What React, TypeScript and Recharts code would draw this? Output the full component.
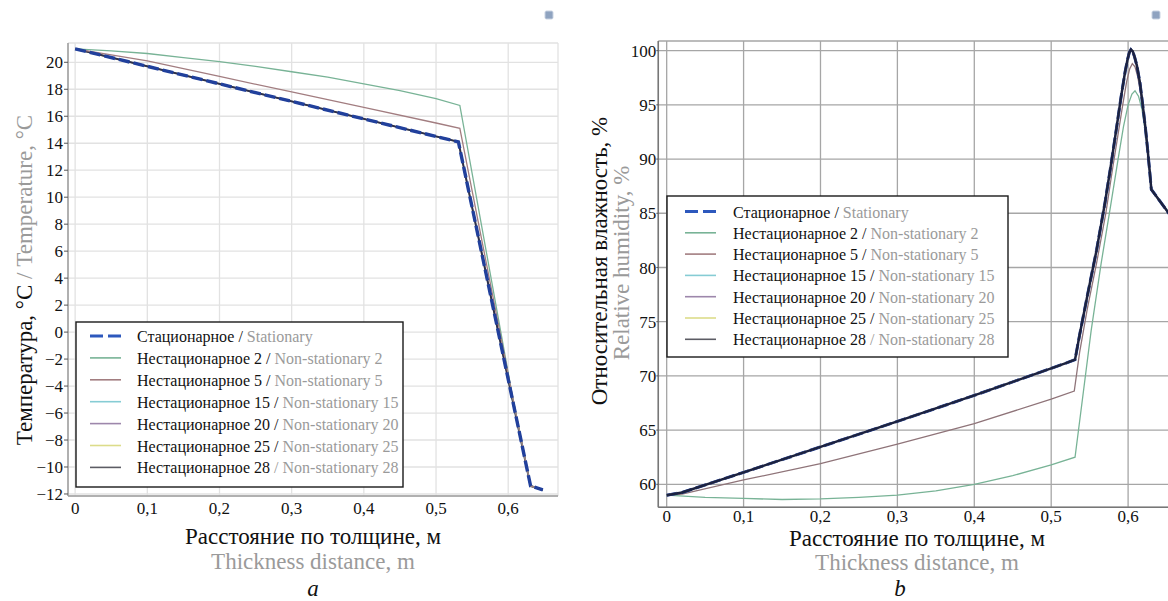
import React from 'react';
import { LineChart, Line, XAxis, YAxis, CartesianGrid } from 'recharts';

const FONT = "'Liberation Serif', 'Times New Roman', serif";

// ---------- a: температура, °C ----------
const tempTicksX = [0, 0.1, 0.2, 0.3, 0.4, 0.5, 0.6];
const tempTicksY = [-12, -10, -8, -6, -4, -2, 0, 2, 4, 6, 8, 10, 12, 14, 16, 18, 20];

const tempStatX = [0, 0.531, 0.631, 0.648];
const tempStatY = [21, 14.1, -11.4, -11.7];

const tempNs2X = [0, 0.05, 0.1, 0.15, 0.2, 0.25, 0.3, 0.35, 0.4, 0.45, 0.5, 0.533, 0.605, 0.631, 0.648];
const tempNs2Y = [21, 20.85, 20.65, 20.35, 20.05, 19.7, 19.3, 18.9, 18.4, 17.9, 17.3, 16.8, -4.5, -11.4, -11.7];

const tempNs5X = [0, 0.1, 0.2, 0.3, 0.4, 0.5, 0.533, 0.605, 0.631, 0.648];
const tempNs5Y = [21, 20.1, 18.95, 17.8, 16.65, 15.5, 15.1, -4.5, -11.4, -11.7];

// 15, 20, 25, 28 — совпадают со стационарным
const tempNs15Y = [21, 14.1, -11.4, -11.7];
const tempNs20Y = [21, 14.1, -11.4, -11.7];
const tempNs25Y = [21, 14.1, -11.4, -11.7];
const tempNs28Y = [21, 14.1, -11.4, -11.7];

// ---------- b: относительная влажность, % ----------
const humTicksX = [0, 0.1, 0.2, 0.3, 0.4, 0.5, 0.6];
const humTicksY = [60, 65, 70, 75, 80, 85, 90, 95, 100];

const humStatX = [0, 0.02, 0.1, 0.2, 0.3, 0.4, 0.5, 0.52, 0.531, 0.537, 0.547, 0.559, 0.57, 0.578, 0.585, 0.591, 0.596, 0.599, 0.6015, 0.6037, 0.606, 0.6085, 0.6115, 0.6155, 0.619, 0.6225, 0.6255, 0.6283, 0.6302, 0.655];
const humStatY = [59.0, 59.25, 61.1, 63.45, 65.8, 68.2, 70.7, 71.2, 71.5, 73.8, 77.4, 81.6, 86.0, 89.6, 92.9, 95.8, 98.0, 99.1, 99.8, 100.1, 99.95, 99.4, 98.6, 97.0, 95.0, 92.9, 90.8, 88.7, 87.2, 84.8];

const humNs2X = [0, 0.05, 0.1, 0.15, 0.2, 0.25, 0.3, 0.35, 0.4, 0.45, 0.5, 0.531, 0.54, 0.552, 0.565, 0.5775, 0.587, 0.594, 0.6, 0.605, 0.609, 0.6135, 0.618, 0.6215, 0.6245, 0.6275, 0.6302, 0.655];
const humNs2Y = [59.0, 58.8, 58.7, 58.6, 58.65, 58.8, 59.0, 59.4, 60.0, 60.8, 61.8, 62.5, 67.5, 74.2, 80.4, 85.8, 90.0, 93.0, 95.0, 96.0, 96.3, 95.8, 94.6, 93.0, 91.3, 89.2, 87.2, 84.8];

const humNs5X = [0, 0.02, 0.1, 0.2, 0.3, 0.4, 0.5, 0.53, 0.537, 0.547, 0.559, 0.571, 0.58, 0.587, 0.593, 0.598, 0.602, 0.6055, 0.609, 0.6125, 0.616, 0.619, 0.6225, 0.6255, 0.6283, 0.6302, 0.655];
const humNs5Y = [59.0, 59.1, 60.4, 61.9, 63.7, 65.6, 67.85, 68.6, 72.2, 76.2, 80.4, 85.0, 89.2, 92.3, 95.0, 97.1, 98.3, 98.8, 98.5, 97.6, 96.2, 95.0, 92.9, 90.8, 88.7, 87.2, 84.8];

// 15, 20, 25, 28 — совпадают со стационарным
const humNs15Y = humStatY.slice();
const humNs20Y = humStatY.slice();
const humNs25Y = humStatY.slice();
const humNs28Y = humStatY.slice();

// ---------- легенда ----------
const seriesRu = ['Стационарное', 'Нестационарное 2', 'Нестационарное 5', 'Нестационарное 15', 'Нестационарное 20', 'Нестационарное 25', 'Нестационарное 28'];
const seriesEn = ['Stationary', 'Non-stationary 2', 'Non-stationary 5', 'Non-stationary 15', 'Non-stationary 20', 'Non-stationary 25', 'Non-stationary 28'];
const seriesColors = ['#2d58bd', '#78b396', '#a27d80', '#86ccd4', '#9d87ab', '#dcdc8a', '#5c5c64'];

type Pt = { x: number; y: number };
const zip = (xs: number[], ys: number[]): Pt[] => xs.map((x, i) => ({ x, y: ys[i] }));

const fmt = (v: number) => (v < 0 ? '\u2212' + String(Math.abs(v)) : String(v).replace('.', ','));
const tickStyle = { fill: '#111', fontSize: 17, fontFamily: FONT, style: { fontFamily: FONT } };

function TempChart() {
  const stat = zip(tempStatX, tempStatY);
  const frame = { stroke: '#9c9c9c', strokeWidth: 1.5 };
  return (
    <div style={{ position: 'absolute', left: 0, top: 0 }}>
      <LineChart width={600} height={601} margin={{ top: 43, right: 42, bottom: 75, left: 18 }}>
        <CartesianGrid stroke="#e2e2e2" strokeWidth={1.3} />
        <XAxis type="number" dataKey="x" domain={[-0.0099, 0.669]} ticks={tempTicksX} allowDataOverflow
          height={30} tickFormatter={fmt} tick={tickStyle} tickLine={false} tickSize={0} tickMargin={6} axisLine={frame} />
        <XAxis xAxisId="top" orientation="top" type="number" dataKey="x" domain={[-0.0099, 0.669]} ticks={tempTicksX}
          allowDataOverflow height={0} mirror tick={false} tickSize={5} tickLine={{ stroke: '#555' }} axisLine={frame} />
        <YAxis type="number" domain={[-12.15, 21.43]} ticks={tempTicksY} allowDataOverflow width={50}
          tickFormatter={fmt} tick={tickStyle} tickSize={4} tickMargin={1} tickLine={{ stroke: '#555' }} axisLine={frame} />
        <YAxis yAxisId="right" orientation="right" type="number" domain={[-12.15, 21.43]} ticks={tempTicksY}
          allowDataOverflow width={0} mirror tick={false} tickSize={5} tickLine={{ stroke: '#555' }} axisLine={frame} />
        <Line data={zip(tempStatX, tempNs15Y)} dataKey="y" stroke={seriesColors[3]} strokeWidth={1.2} dot={false} isAnimationActive={false} />
        <Line data={zip(tempStatX, tempNs20Y)} dataKey="y" stroke={seriesColors[4]} strokeWidth={1.2} dot={false} isAnimationActive={false} />
        <Line data={zip(tempStatX, tempNs25Y)} dataKey="y" stroke={seriesColors[5]} strokeWidth={1.2} dot={false} isAnimationActive={false} />
        <Line data={zip(tempStatX, tempNs28Y)} dataKey="y" stroke="#2c2f4c" strokeWidth={2} dot={false} isAnimationActive={false} />
        <Line data={zip(tempNs2X, tempNs2Y)} dataKey="y" stroke={seriesColors[1]} strokeWidth={1.3} dot={false} isAnimationActive={false} />
        <Line data={zip(tempNs5X, tempNs5Y)} dataKey="y" stroke={seriesColors[2]} strokeWidth={1.3} dot={false} isAnimationActive={false} />
        <Line data={stat} dataKey="y" stroke="#21409c" strokeWidth={3.4} strokeDasharray="11 4" dot={false} isAnimationActive={false} />
      </LineChart>
    </div>
  );
}

function HumChart() {
  const frame = { stroke: '#777', strokeWidth: 1.5 };
  return (
    <div style={{ position: 'absolute', left: 580, top: 0, width: 588, height: 601, overflow: 'hidden' }}>
      <LineChart width={640} height={601} margin={{ top: 41, right: 10, bottom: 63.7, left: 33.3 }}>
        <CartesianGrid stroke="#a6a6a6" strokeWidth={1.3} />
        <XAxis type="number" dataKey="x" domain={[-0.0109, 0.7065]} ticks={humTicksX} allowDataOverflow
          height={30} tickFormatter={fmt} tick={tickStyle} tickLine={false} tickSize={0} tickMargin={3} axisLine={frame} />
        <XAxis xAxisId="top" orientation="top" type="number" dataKey="x" domain={[-0.0109, 0.7065]} ticks={humTicksX}
          allowDataOverflow height={0} mirror tick={false} tickLine={false} axisLine={frame} />
        <YAxis type="number" domain={[57.88, 100.89]} ticks={humTicksY} allowDataOverflow width={45}
          tick={tickStyle} tickSize={2} tickMargin={0} tickLine={{ stroke: '#555' }} axisLine={frame} />
        <Line data={zip(humNs2X, humNs2Y)} dataKey="y" stroke={seriesColors[1]} strokeWidth={1.3} dot={false} isAnimationActive={false} />
        <Line data={zip(humNs5X, humNs5Y)} dataKey="y" stroke="#8f7479" strokeWidth={1.3} dot={false} isAnimationActive={false} />
        <Line data={zip(humStatX, humStatY)} dataKey="y" stroke="#21409c" strokeWidth={3} strokeDasharray="11 4" dot={false} isAnimationActive={false} />
        <Line data={zip(humStatX, humNs15Y)} dataKey="y" stroke={seriesColors[3]} strokeWidth={1.2} dot={false} isAnimationActive={false} />
        <Line data={zip(humStatX, humNs20Y)} dataKey="y" stroke={seriesColors[4]} strokeWidth={1.2} dot={false} isAnimationActive={false} />
        <Line data={zip(humStatX, humNs25Y)} dataKey="y" stroke={seriesColors[5]} strokeWidth={1.2} dot={false} isAnimationActive={false} />
        <Line data={zip(humStatX, humNs28Y)} dataKey="y" stroke="#1c2240" strokeWidth={2.5} dot={false} isAnimationActive={false} />
      </LineChart>
    </div>
  );
}

function LegendBox(p: { x: number; y: number; w: number; h: number; row0: number; rowH: number; lx: number; tx: number; fs: number }) {
  return (
    <g>
      <rect x={p.x} y={p.y} width={p.w} height={p.h} fill="#fff" stroke="#1a1a1a" strokeWidth={1.4} />
      {seriesRu.map((ru, i) => {
        const cy = p.row0 + i * p.rowH;
        return (
          <g key={ru}>
            <line x1={p.lx} x2={p.lx + 31} y1={cy} y2={cy} stroke={seriesColors[i]}
              strokeWidth={i === 0 ? 3.2 : 1.6} strokeDasharray={i === 0 ? '13 5' : undefined} />
            <text x={p.tx} y={cy} dominantBaseline="central" fontSize={p.fs} fontFamily={FONT} style={{ fontFamily: FONT }}>
              <tspan fill="#111">{ru}</tspan>
              <tspan fill={i === 6 ? '#9a9a9a' : '#111'}> / </tspan>
              <tspan fill="#9a9a9a">{seriesEn[i]}</tspan>
            </text>
          </g>
        );
      })}
    </g>
  );
}

function Overlay() {
  const t = { fontFamily: FONT, style: { fontFamily: FONT }, fontSize: 23, textAnchor: 'middle' as const, dominantBaseline: 'central' as const };
  return (
    <svg width={1168} height={601} style={{ position: 'absolute', left: 0, top: 0, pointerEvents: 'none' }}>
      <rect x={545} y={11} width={8} height={8} rx={1.5} fill="#8fa3c0" stroke="#c9d3e2" />
      <rect x={1152} y={11} width={8} height={8} rx={1.5} fill="#8fa3c0" stroke="#c9d3e2" />

      <LegendBox x={76} y={322} w={327} h={165} row0={336} rowH={21.9} lx={90} tx={137} fs={16} />
      <LegendBox x={667} y={196} w={341} h={161} row0={211.5} rowH={21.3} lx={685} tx={733} fs={16} />

      <text {...t} transform="translate(24,280) rotate(-90)">
        <tspan fill="#111">Температура, °С</tspan>
        <tspan fill="#9a9a9a"> / Temperature, °C</tspan>
      </text>
      <text {...t} x={313} y={536} fill="#111">Расстояние по толщине, м</text>
      <text {...t} x={313} y={561} fill="#9a9a9a">Thickness distance, m</text>
      <text {...t} x={313} y={588} fill="#111" fontStyle="italic">a</text>

      <text {...t} transform="translate(599,261) rotate(-90)" fill="#111">Относительная влажность, %</text>
      <text {...t} transform="translate(621,263) rotate(-90)" fill="#9a9a9a">Relative humidity, %</text>
      <text {...t} x={917} y={538} fill="#111">Расстояние по толщине, м</text>
      <text {...t} x={917} y={562} fill="#9a9a9a">Thickness distance, m</text>
      <text {...t} x={900} y={588} fill="#111" fontStyle="italic">b</text>
    </svg>
  );
}

export default function App() {
  return (
    <div style={{ position: 'absolute', left: 0, top: 0, width: 1168, height: 601, background: '#fff', fontFamily: FONT }}>
      <TempChart />
      <HumChart />
      <Overlay />
    </div>
  );
}
